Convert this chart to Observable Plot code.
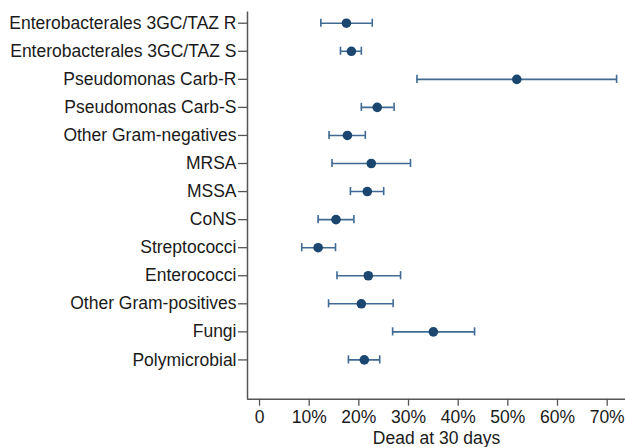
<!DOCTYPE html>
<html>
<head>
<meta charset="utf-8">
<script src="https://cdn.jsdelivr.net/npm/d3@7"></script>
<script src="https://cdn.jsdelivr.net/npm/@observablehq/plot@0.6"></script>
<style>
  html, body { margin: 0; padding: 0; background: #fff; }
  #chart { width: 625px; height: 447px; overflow: hidden; }
</style>
</head>
<body>
<div id="chart"></div>
<script>
const categories = [
  "Enterobacterales 3GC/TAZ R",
  "Enterobacterales 3GC/TAZ S",
  "Pseudomonas Carb-R",
  "Pseudomonas Carb-S",
  "Other Gram-negatives",
  "MRSA",
  "MSSA",
  "CoNS",
  "Streptococci",
  "Enterococci",
  "Other Gram-positives",
  "Fungi",
  "Polymicrobial"
];
const estimate = [17.5, 18.5, 51.8, 23.7, 17.7, 22.5, 21.7, 15.4, 11.8, 21.9, 20.5, 35.0, 21.1];
const lower    = [12.35, 16.3, 31.7, 20.5, 14.0, 14.6, 18.3, 11.8, 8.5, 15.6, 13.9, 26.8, 17.9];
const upper    = [22.7, 20.5, 71.9, 27.1, 21.3, 30.4, 25.0, 19.0, 15.3, 28.4, 26.9, 43.3, 24.2];
const xTicks = [0, 10, 20, 30, 40, 50, 60, 70];

const rows = categories.map((c, k) => ({cat: c, i: k + 1, est: estimate[k], lo: lower[k], hi: upper[k]}));

const xDomain = [-2.42, 73.69];
const yDomain = [0.6, 14.4];
const capHalf = 0.145;
const axisColor = "#555";
const lineColor = "#3e6a93";
const dotColor = "#1a4670";

const chart = Plot.plot({
  width: 625,
  height: 447,
  marginLeft: 247,
  marginRight: 0,
  marginTop: 11.5,
  marginBottom: 48.3,
  style: {fontFamily: "'Liberation Sans', Arial, sans-serif", fontSize: "17.5px", color: "#1a1a1a", background: "#fff"},
  x: {domain: xDomain},
  y: {domain: yDomain, reverse: true},
  marks: [
    Plot.axisY({
      ticks: rows.map(d => d.i),
      tickFormat: i => categories[i - 1],
      tickSize: 9,
      tickPadding: 2,
      stroke: axisColor,
      strokeWidth: 1.3,
      fill: "#1a1a1a",
      fontSize: 17.5,
      label: null
    }),
    Plot.axisX({
      ticks: xTicks,
      tickFormat: d => d === 0 ? "0" : d + "%",
      tickSize: 7,
      tickPadding: 4,
      stroke: axisColor,
      strokeWidth: 1.3,
      fill: "#1a1a1a",
      fontSize: 17.5,
      label: "Dead at 30 days",
      labelAnchor: "center",
      labelArrow: "none",
      labelOffset: 45
    }),
    Plot.ruleX([xDomain[0]], {y1: yDomain[0], y2: yDomain[1], stroke: axisColor, strokeWidth: 1.5}),
    Plot.ruleY([yDomain[1]], {x1: xDomain[0], x2: xDomain[1], stroke: axisColor, strokeWidth: 1.5}),
    Plot.ruleY(rows, {y: "i", x1: "lo", x2: "hi", stroke: lineColor, strokeWidth: 1.6}),
    Plot.ruleX(rows, {x: "lo", y1: d => d.i - capHalf, y2: d => d.i + capHalf, stroke: lineColor, strokeWidth: 1.6}),
    Plot.ruleX(rows, {x: "hi", y1: d => d.i - capHalf, y2: d => d.i + capHalf, stroke: lineColor, strokeWidth: 1.6}),
    Plot.dot(rows, {x: "est", y: "i", r: 4.8, fill: dotColor, stroke: "none"})
  ]
});
document.getElementById("chart").appendChild(chart);
</script>
</body>
</html>
